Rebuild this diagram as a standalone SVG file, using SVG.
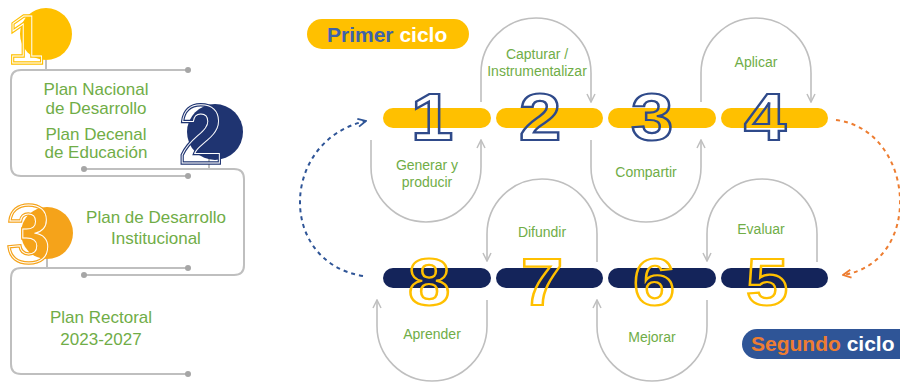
<svg xmlns="http://www.w3.org/2000/svg" width="900" height="382" viewBox="0 0 900 382">
  <defs>
    <style>
      .lbl{font-family:"Liberation Sans",Arial,sans-serif;fill:#70ad47;text-anchor:middle}
      .l17{font-size:17px}
      .l14{font-size:14px}
      .gl{fill:none;stroke:#bfbfbf;stroke-width:2}
      .arc{fill:none;stroke:#bfbfbf;stroke-width:1.6}
      .dot{fill:#a6a6a6}
      .big{font-family:"Liberation Sans",Arial,sans-serif;font-weight:bold;font-size:66px;text-anchor:middle;fill:none;stroke-width:2.2}
      .bigL{font-family:"Liberation Sans",Arial,sans-serif;font-weight:bold;text-anchor:middle;fill:none}
      .pill{font-family:"Liberation Sans",Arial,sans-serif;font-weight:bold;font-size:21px}
      .yb{fill:#ffc000}
      .nb{fill:#14245a}
    </style>
    <marker id="ag" viewBox="0 0 10 10" refX="9" refY="5" markerWidth="10" markerHeight="10" markerUnits="userSpaceOnUse" orient="auto">
      <path d="M1,1 L9,5 L1,9" fill="none" stroke="#bfbfbf" stroke-width="1.5"/>
    </marker>
    <marker id="ab" viewBox="0 0 10 10" refX="9" refY="5" markerWidth="10" markerHeight="10" markerUnits="userSpaceOnUse" orient="auto">
      <path d="M1,1 L9,5 L1,9" fill="none" stroke="#2f5597" stroke-width="1.8"/>
    </marker>
    <marker id="ao" viewBox="0 0 10 10" refX="9" refY="5" markerWidth="10" markerHeight="10" markerUnits="userSpaceOnUse" orient="auto">
      <path d="M1,1 L9,5 L1,9" fill="none" stroke="#ed7d31" stroke-width="1.8"/>
    </marker>
  </defs>
  <rect width="900" height="382" fill="#ffffff"/>

  <!-- Left panel -->
  <g id="left-lines">
    <path class="gl" d="M188,70 H21 Q11,70 11,80 V166 Q11,176 21,176 H188"/>
    <path class="gl" d="M84,169 H234 Q244,169 244,179 V265 Q244,275 234,275 H84"/>
    <path class="gl" d="M188,268 H21 Q11,268 11,278 V364 Q11,374 21,374 H188"/>
    <line class="gl" x1="46" y1="60" x2="46" y2="70"/>
    <line class="gl" x1="209" y1="158" x2="209" y2="169"/>
    <line class="gl" x1="47" y1="259" x2="47" y2="268"/>
    <circle class="dot" cx="188" cy="70" r="3"/>
    <circle class="dot" cx="188" cy="176" r="3"/>
    <circle class="dot" cx="84" cy="169" r="3"/>
    <circle class="dot" cx="84" cy="275" r="3"/>
    <circle class="dot" cx="188" cy="268" r="3"/>
    <circle class="dot" cx="188" cy="374" r="3"/>
  </g>

  <g id="level1">
    <circle cx="46" cy="34" r="26" fill="#ffc000"/>
    <g transform="translate(26,63) scale(0.9,1)">
      <text class="bigL" font-size="69" stroke="#ffc000" stroke-width="3.5">1</text>
      <text class="bigL" font-size="69" stroke="#ffffff" stroke-width="1">1</text>
    </g>
    <text class="lbl l17" x="96" y="95">Plan Nacional</text>
    <text class="lbl l17" x="96" y="114">de Desarrollo</text>
    <text class="lbl l17" x="96" y="140">Plan Decenal</text>
    <text class="lbl l17" x="96" y="158">de Educación</text>
  </g>

  <g id="level2">
    <circle cx="215" cy="132" r="28" fill="#1f3471"/>
    <g transform="translate(201,163) scale(0.92,1)">
      <text class="bigL" font-size="84" stroke="#1f3471" stroke-width="3.5">2</text>
      <text class="bigL" font-size="84" stroke="#ffffff" stroke-width="1">2</text>
    </g>
    <text class="lbl l17" x="156" y="223">Plan de Desarrollo</text>
    <text class="lbl l17" x="156" y="244">Institucional</text>
  </g>

  <g id="level3">
    <circle cx="47" cy="233" r="26" fill="#f5a31a"/>
    <g transform="translate(29,262) scale(0.95,1)">
      <text class="bigL" font-size="82" stroke="#f5a31a" stroke-width="3.5">3</text>
      <text class="bigL" font-size="82" stroke="#ffffff" stroke-width="1">3</text>
    </g>
    <text class="lbl l17" x="101" y="323">Plan Rectoral</text>
    <text class="lbl l17" x="101" y="345">2023-2027</text>
  </g>

  <!-- Right panel: cycle labels -->
  <g id="primer-ciclo">
    <rect x="307" y="19" width="162" height="30" rx="15" fill="#ffc000"/>
    <text class="pill" x="327" y="42"><tspan fill="#3f62a8">Primer</tspan><tspan fill="#ffffff"> ciclo</tspan></text>
  </g>
  <g id="segundo-ciclo">
    <rect x="742" y="329" width="175" height="30" rx="15" fill="#2f5597"/>
    <text class="pill" x="751" y="351"><tspan fill="#ed7d31">Segundo</tspan><tspan fill="#ffffff"> ciclo</tspan></text>
  </g>

  <!-- Connectors -->
  <g id="connectors">
    <path class="arc" marker-end="url(#ag)" d="M481,102 V73 A55,55 0 0 1 591,73 V102"/>
    <path class="arc" marker-end="url(#ag)" d="M701,102 V73 A55,55 0 0 1 811,73 V102"/>
    <path class="arc" marker-end="url(#ag)" d="M371,140 V167 A55,55 0 0 0 481,167 V140"/>
    <path class="arc" marker-end="url(#ag)" d="M591,140 V167 A55,55 0 0 0 701,167 V140"/>
    <path class="arc" marker-end="url(#ag)" d="M597,262 V234 A55,55 0 0 0 487,234 V261"/>
    <path class="arc" marker-end="url(#ag)" d="M817,262 V234 A55,55 0 0 0 707,234 V261"/>
    <path class="arc" marker-end="url(#ag)" d="M487,300 V326 A55,55 0 0 1 377,326 V300"/>
    <path class="arc" marker-end="url(#ag)" d="M707,300 V326 A55,55 0 0 1 597,326 V300"/>
    <path d="M363,276 C277,262 280,140 366,121" fill="none" stroke="#2f5597" stroke-width="2" stroke-dasharray="4,4" marker-end="url(#ab)"/>
    <path d="M836,120 C915,130 925,262 843,275" fill="none" stroke="#ed7d31" stroke-width="2" stroke-dasharray="4,4" marker-end="url(#ao)"/>
  </g>

  <!-- Steps -->
  <g id="step1">
    <rect class="yb" x="383" y="108" width="108" height="20" rx="10"/>
    <text class="big" stroke="#2f4a8a" transform="translate(432,140) scale(1.15,1)">1</text>
    <text class="lbl l14" x="427" y="170">Generar y</text>
    <text class="lbl l14" x="427" y="187">producir</text>
  </g>
  <g id="step2">
    <rect class="yb" x="496" y="108" width="107" height="20" rx="10"/>
    <text class="big" stroke="#2f4a8a" transform="translate(540,140) scale(1.15,1)">2</text>
    <text class="lbl l14" x="537" y="59">Capturar /</text>
    <text class="lbl l14" x="537" y="76">Instrumentalizar</text>
  </g>
  <g id="step3">
    <rect class="yb" x="608" y="108" width="108" height="20" rx="10"/>
    <text class="big" stroke="#2f4a8a" transform="translate(652,140) scale(1.15,1)">3</text>
    <text class="lbl l14" x="646" y="177">Compartir</text>
  </g>
  <g id="step4">
    <rect class="yb" x="721" y="108" width="107" height="20" rx="10"/>
    <text class="big" stroke="#2f4a8a" transform="translate(765,140) scale(1.15,1)">4</text>
    <text class="lbl l14" x="756" y="67">Aplicar</text>
  </g>
  <g id="step5">
    <rect class="nb" x="721" y="268" width="107" height="20" rx="10"/>
    <text class="big" stroke="#ffc000" transform="translate(767,305) scale(1.15,1)">5</text>
    <text class="lbl l14" x="761" y="234">Evaluar</text>
  </g>
  <g id="step6">
    <rect class="nb" x="608" y="268" width="108" height="20" rx="10"/>
    <text class="big" stroke="#ffc000" transform="translate(654,305) scale(1.15,1)">6</text>
    <text class="lbl l14" x="652" y="342">Mejorar</text>
  </g>
  <g id="step7">
    <rect class="nb" x="496" y="268" width="107" height="20" rx="10"/>
    <text class="big" stroke="#ffc000" transform="translate(542,305) scale(1.15,1)">7</text>
    <text class="lbl l14" x="542" y="237">Difundir</text>
  </g>
  <g id="step8">
    <rect class="nb" x="383" y="268" width="108" height="20" rx="10"/>
    <text class="big" stroke="#ffc000" transform="translate(429,305) scale(1.15,1)">8</text>
    <text class="lbl l14" x="432" y="339">Aprender</text>
  </g>
</svg>
